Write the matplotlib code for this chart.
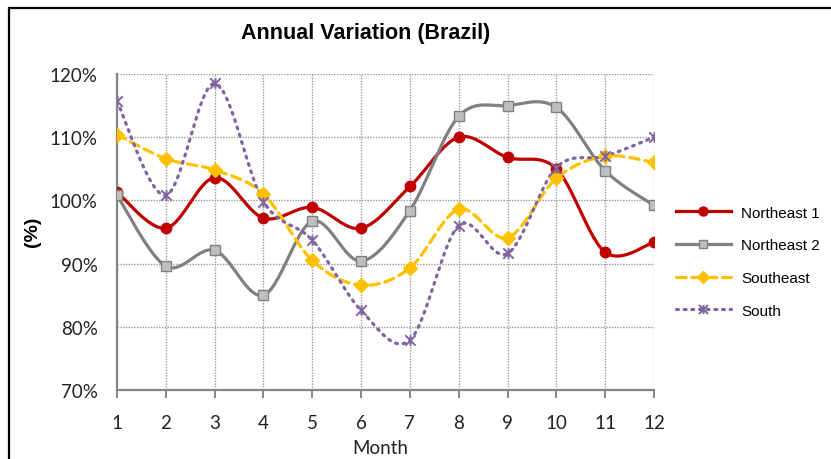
import numpy as np
import matplotlib.pyplot as plt
from matplotlib.path import Path
from matplotlib.patches import Rectangle
from matplotlib.lines import Line2D

# Dados
meses = [1, 2, 3, 4, 5, 6, 7, 8, 9, 10, 11, 12]
nordeste1 = [101.3, 95.6, 103.6, 97.2, 98.9, 95.6, 102.2, 110.0, 106.8, 105.0, 91.8, 93.4]
nordeste2 = [100.8, 89.6, 92.1, 85.0, 96.7, 90.4, 98.4, 113.3, 115.0, 114.7, 104.7, 99.2]
sudeste = [110.4, 106.6, 104.8, 101.0, 90.5, 86.6, 89.3, 98.6, 94.1, 103.5, 107.0, 106.0]
sul = [115.7, 100.8, 118.5, 99.8, 93.7, 82.6, 77.9, 96.0, 91.6, 105.2, 107.0, 110.0]
nomes = ['Northeast 1', 'Northeast 2', 'Southeast', 'South']


def suavizar(x, y, n=30):
    # curva tipo Excel (Catmull-Rom passando pelos pontos)
    x = np.asarray(x, float)
    y = np.asarray(y, float)
    px = np.concatenate([[x[0]], x, [x[-1]]])
    py = np.concatenate([[y[0]], y, [y[-1]]])
    xs, ys = [], []
    t = np.linspace(0, 1, n, endpoint=False)
    for i in range(1, len(px) - 2):
        b0x, b0y = px[i], py[i]
        b3x, b3y = px[i + 1], py[i + 1]
        b1x = b0x + (px[i + 1] - px[i - 1]) / 6
        b1y = b0y + (py[i + 1] - py[i - 1]) / 6
        b2x = b3x - (px[i + 2] - px[i]) / 6
        b2y = b3y - (py[i + 2] - py[i]) / 6
        xs.append((1 - t)**3 * b0x + 3 * (1 - t)**2 * t * b1x + 3 * (1 - t) * t**2 * b2x + t**3 * b3x)
        ys.append((1 - t)**3 * b0y + 3 * (1 - t)**2 * t * b1y + 3 * (1 - t) * t**2 * b2y + t**3 * b3y)
    xs.append([x[-1]])
    ys.append([y[-1]])
    return np.concatenate(xs), np.concatenate(ys)


# marcador estrela do Excel (X com traço vertical)
estrela = Path([(-1, -1), (1, 1), (-1, 1), (1, -1), (0, -1), (0, 1)],
               [Path.MOVETO, Path.LINETO, Path.MOVETO, Path.LINETO, Path.MOVETO, Path.LINETO])

fig = plt.figure(figsize=(8.31, 4.6), dpi=100)
ax = fig.add_axes([117 / 831, 1 - 391 / 460, (654 - 117) / 831, (391 - 75) / 460])

estilos = [
    dict(color='#C00000', ls='-', marker='o', ms=7.5, mfc='#C00000', mec='#C00000', mew=1),
    dict(color='#808080', ls='-', marker='s', ms=7, mfc='#BFBFBF', mec='#808080', mew=1),
    dict(color='#FFC000', ls=(0, (3, 1.8)), marker='D', ms=7, mfc='#FFC000', mec='#FFC000', mew=1),
    dict(color='#8064A2', ls=(0, (0.6, 1.8)), marker=estrela, ms=7.5, mfc='none', mec='#8064A2', mew=1.4),
]

handles = []
for serie, est in zip([nordeste1, nordeste2, sudeste, sul], estilos):
    xs, ys = suavizar(meses, serie)
    ax.plot(xs, ys, color=est['color'], ls=est['ls'], lw=2.3, dash_capstyle='round', zorder=3)
    ax.plot(meses, serie, ls='none', marker=est['marker'], ms=est['ms'], mfc=est['mfc'],
            mec=est['mec'], mew=est['mew'], zorder=4)
    handles.append(Line2D([0], [0], color=est['color'], ls=est['ls'], lw=2.3, dash_capstyle='round',
                          marker=est['marker'], ms=est['ms'] - 1, mfc=est['mfc'], mec=est['mec'],
                          mew=est['mew']))

ax.set_xlim(1, 12)
ax.set_ylim(70, 120)
ax.set_xticks(meses)
ax.set_yticks(range(70, 121, 10))
ax.set_yticklabels([f'{v}%' for v in range(70, 121, 10)])
ax.grid(True, color='#9A9A9A', ls=(0, (1, 1)), lw=1)
ax.set_axisbelow(True)
for lado in ['top', 'right']:
    ax.spines[lado].set_visible(False)
for lado in ['left', 'bottom']:
    ax.spines[lado].set_color('#868686')
    ax.spines[lado].set_linewidth(1.6)
ax.tick_params(axis='x', direction='out', length=6, width=1.4, color='#868686', pad=11)
ax.tick_params(axis='y', length=0, pad=14)
for lbl in ax.get_xticklabels() + ax.get_yticklabels():
    lbl.set_family('Lato')
    lbl.set_fontsize(13.5)
    lbl.set_color('#222222')

fig.text(366 / 831, 1 - 33 / 460, 'Annual Variation (Brazil)', ha='center', va='center',
         family='Liberation Sans', fontweight='bold', fontsize=15.5)
fig.text(33 / 831, 1 - 232 / 460, '(%)', ha='center', va='center', rotation=90,
         family='Liberation Sans', fontweight='bold', fontsize=14)
fig.text(380 / 831, 1 - 449 / 460, 'Month', ha='center', va='center',
         family='Lato', fontsize=13.5, color='#222222')

leg = fig.legend(handles, nomes, loc='upper left', bbox_to_anchor=(662 / 831, 1 - 193 / 460),
                 frameon=False, prop={'family': 'Liberation Sans', 'size': 11},
                 handlelength=3.6, labelspacing=1.22, handletextpad=0.7)

# moldura do gráfico
fig.patches.append(Rectangle((9 / 831, -0.1), 1.2, 1.1 - 9 / 460, transform=fig.transFigure,
                             fill=False, edgecolor='black', lw=1.6))

fig.savefig('out.png', dpi=100)
